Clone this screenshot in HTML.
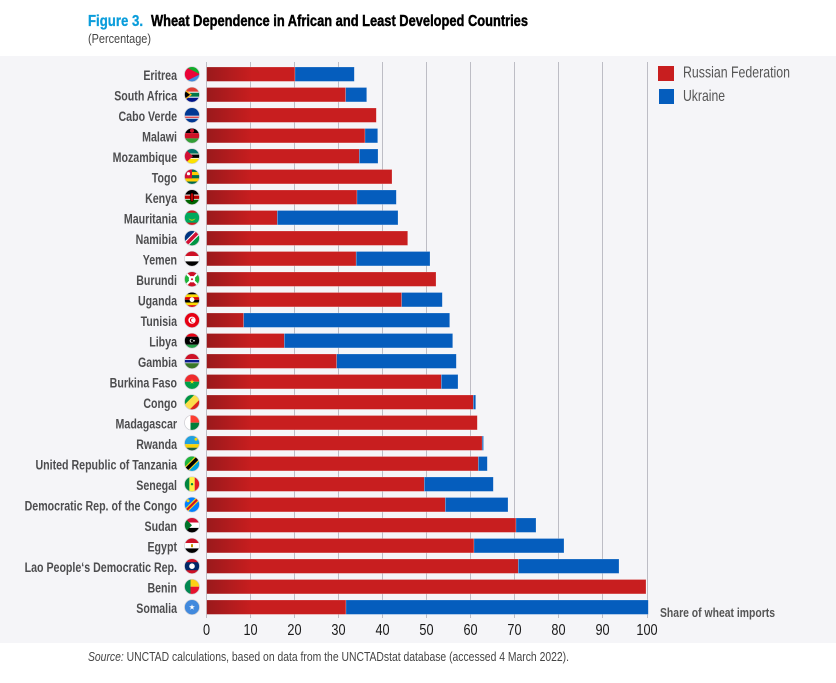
<!DOCTYPE html>
<html><head><meta charset="utf-8"><style>
html,body{margin:0;padding:0;background:#fff;}
svg{display:block;}
</style></head><body>
<svg width="836" height="683" viewBox="0 0 836 683" xmlns="http://www.w3.org/2000/svg" font-family="Liberation Sans, sans-serif">
<defs>
<linearGradient id="rg" gradientUnits="userSpaceOnUse" x1="206" y1="0" x2="252" y2="0">
<stop offset="0" stop-color="#9a191c"/><stop offset="1" stop-color="#c81e1f"/>
</linearGradient>
<clipPath id="fc"><circle cx="0" cy="0" r="7.4"/></clipPath>
</defs>
<rect x="0" y="0" width="836" height="683" fill="#fff"/>
<rect x="0" y="56" width="836" height="587" fill="#f5f5f8"/>

<!-- title -->
<text x="88" y="26" font-size="16" font-weight="bold" fill="#0a9ddb" stroke="#0a9ddb" stroke-width="0.3" textLength="55" lengthAdjust="spacingAndGlyphs">Figure 3.</text>
<text x="151" y="26" font-size="16" font-weight="bold" fill="#000" stroke="#000" stroke-width="0.45" textLength="377" lengthAdjust="spacingAndGlyphs">Wheat Dependence in African and Least Developed Countries</text>
<text x="88" y="43" font-size="13" fill="#444" textLength="63" lengthAdjust="spacingAndGlyphs">(Percentage)</text>

<!-- grid -->
<g stroke="#bdbdc5" stroke-width="1">
<line x1="206.5" y1="62" x2="206.5" y2="618"/>
<line x1="250.5" y1="62" x2="250.5" y2="618"/>
<line x1="294.5" y1="62" x2="294.5" y2="618"/>
<line x1="338.5" y1="62" x2="338.5" y2="618"/>
<line x1="382.5" y1="62" x2="382.5" y2="618"/>
<line x1="426.5" y1="62" x2="426.5" y2="618"/>
<line x1="470.5" y1="62" x2="470.5" y2="618"/>
<line x1="514.5" y1="62" x2="514.5" y2="618"/>
<line x1="558.5" y1="62" x2="558.5" y2="618"/>
<line x1="602.5" y1="62" x2="602.5" y2="618"/>
<line x1="647.5" y1="62" x2="647.5" y2="618"/>
</g>

<!-- bars -->
<g stroke="#ffffff" stroke-opacity="0.35" stroke-width="0.6">
<rect x="206.7" y="67" width="88.3" height="14.4" fill="url(#rg)"/><rect x="295" y="67" width="59.3" height="14.4" fill="#055dbd"/>
<rect x="206.7" y="87.5" width="139" height="14.4" fill="url(#rg)"/><rect x="345.7" y="87.5" width="21" height="14.4" fill="#055dbd"/>
<rect x="206.7" y="108" width="169.6" height="14.4" fill="url(#rg)"/>
<rect x="206.7" y="128.5" width="158.3" height="14.4" fill="url(#rg)"/><rect x="365" y="128.5" width="12.7" height="14.4" fill="#055dbd"/>
<rect x="206.7" y="149" width="152.6" height="14.4" fill="url(#rg)"/><rect x="359.3" y="149" width="18.7" height="14.4" fill="#055dbd"/>
<rect x="206.7" y="169.5" width="185.3" height="14.4" fill="url(#rg)"/>
<rect x="206.7" y="190" width="150.3" height="14.4" fill="url(#rg)"/><rect x="357" y="190" width="39.3" height="14.4" fill="#055dbd"/>
<rect x="206.7" y="210.5" width="70.6" height="14.4" fill="url(#rg)"/><rect x="277.3" y="210.5" width="120.7" height="14.4" fill="#055dbd"/>
<rect x="206.7" y="231" width="201" height="14.4" fill="url(#rg)"/>
<rect x="206.7" y="251.5" width="149.5" height="14.4" fill="url(#rg)"/><rect x="356.2" y="251.5" width="73.8" height="14.4" fill="#055dbd"/>
<rect x="206.7" y="272" width="229.3" height="14.4" fill="url(#rg)"/>
<rect x="206.7" y="292.5" width="195" height="14.4" fill="url(#rg)"/><rect x="401.7" y="292.5" width="40.6" height="14.4" fill="#055dbd"/>
<rect x="206.7" y="313" width="37" height="14.4" fill="url(#rg)"/><rect x="243.7" y="313" width="206" height="14.4" fill="#055dbd"/>
<rect x="206.7" y="333.5" width="77.6" height="14.4" fill="url(#rg)"/><rect x="284.3" y="333.5" width="168.4" height="14.4" fill="#055dbd"/>
<rect x="206.7" y="354" width="130" height="14.4" fill="url(#rg)"/><rect x="336.7" y="354" width="119.6" height="14.4" fill="#055dbd"/>
<rect x="206.7" y="374.5" width="234.6" height="14.4" fill="url(#rg)"/><rect x="441.3" y="374.5" width="16.7" height="14.4" fill="#055dbd"/>
<rect x="206.7" y="395" width="266.6" height="14.4" fill="url(#rg)"/><rect x="473.3" y="395" width="2.4" height="14.4" fill="#055dbd"/>
<rect x="206.7" y="415.5" width="270.6" height="14.4" fill="url(#rg)"/>
<rect x="206.7" y="436" width="275.5" height="14.4" fill="url(#rg)"/><rect x="482.2" y="436" width="1.3" height="14.4" fill="#055dbd"/>
<rect x="206.7" y="456.5" width="271.6" height="14.4" fill="url(#rg)"/><rect x="478.3" y="456.5" width="9" height="14.4" fill="#055dbd"/>
<rect x="206.7" y="477" width="217.6" height="14.4" fill="url(#rg)"/><rect x="424.3" y="477" width="69" height="14.4" fill="#055dbd"/>
<rect x="206.7" y="497.5" width="238.6" height="14.4" fill="url(#rg)"/><rect x="445.3" y="497.5" width="62.7" height="14.4" fill="#055dbd"/>
<rect x="206.7" y="518" width="309.3" height="14.4" fill="url(#rg)"/><rect x="516" y="518" width="20" height="14.4" fill="#055dbd"/>
<rect x="206.7" y="538.5" width="267.3" height="14.4" fill="url(#rg)"/><rect x="474" y="538.5" width="90" height="14.4" fill="#055dbd"/>
<rect x="206.7" y="559" width="311.6" height="14.4" fill="url(#rg)"/><rect x="518.3" y="559" width="100.7" height="14.4" fill="#055dbd"/>
<rect x="206.7" y="579.5" width="439.3" height="14.4" fill="url(#rg)"/>
<rect x="206.7" y="600" width="139.3" height="14.4" fill="url(#rg)"/><rect x="346" y="600" width="302.3" height="14.4" fill="#055dbd"/>
</g>

<!-- country labels -->
<g transform="scale(0.76,1)" font-size="14" font-weight="bold" fill="#4d4d4f" text-anchor="end">
<text x="232.9" y="80">Eritrea</text>
<text x="232.9" y="100.5">South Africa</text>
<text x="232.9" y="121">Cabo Verde</text>
<text x="232.9" y="141.5">Malawi</text>
<text x="232.9" y="162">Mozambique</text>
<text x="232.9" y="182.5">Togo</text>
<text x="232.9" y="203">Kenya</text>
<text x="232.9" y="223.5">Mauritania</text>
<text x="232.9" y="244">Namibia</text>
<text x="232.9" y="264.5">Yemen</text>
<text x="232.9" y="285">Burundi</text>
<text x="232.9" y="305.5">Uganda</text>
<text x="232.9" y="326">Tunisia</text>
<text x="232.9" y="346.5">Libya</text>
<text x="232.9" y="367">Gambia</text>
<text x="232.9" y="387.5">Burkina Faso</text>
<text x="232.9" y="408">Congo</text>
<text x="232.9" y="428.5">Madagascar</text>
<text x="232.9" y="449">Rwanda</text>
<text x="232.9" y="469.5">United Republic of Tanzania</text>
<text x="232.9" y="490">Senegal</text>
<text x="232.9" y="510.5">Democratic Rep. of the Congo</text>
<text x="232.9" y="531">Sudan</text>
<text x="232.9" y="551.5">Egypt</text>
<text x="232.9" y="572">Lao People‘s Democratic Rep.</text>
<text x="232.9" y="592.5">Benin</text>
<text x="232.9" y="613">Somalia</text>
</g>

<!-- flags -->
<g>
<g transform="translate(192,74.2)"><g clip-path="url(#fc)"><rect x="-8" y="-8" width="16" height="8" fill="#12ad2b"/><rect x="-8" y="0" width="16" height="8" fill="#4189dd"/><polygon points="-8,-8 8,0 -8,8" fill="#ea0437"/></g></g>
<g transform="translate(192,94.7)"><g clip-path="url(#fc)"><rect x="-8" y="-8" width="16" height="8" fill="#e03c31"/><rect x="-8" y="0" width="16" height="8" fill="#001489"/><rect x="-8" y="-3" width="16" height="6" fill="#fff"/><rect x="-8" y="-2" width="16" height="4" fill="#007749"/><polygon points="-8,-6 0,0 -8,6" fill="#ffb81c"/><polygon points="-8,-4.5 -2,0 -8,4.5" fill="#000"/></g></g>
<g transform="translate(192,115.2)"><g clip-path="url(#fc)"><rect x="-8" y="-8" width="16" height="16" fill="#003893"/><rect x="-8" y="0.5" width="16" height="3" fill="#fff"/><rect x="-8" y="1.4" width="16" height="1.2" fill="#cf2027"/></g></g>
<g transform="translate(192,135.7)"><g clip-path="url(#fc)"><rect x="-8" y="-8" width="16" height="5.4" fill="#000"/><rect x="-8" y="-2.6" width="16" height="5.3" fill="#ce1126"/><rect x="-8" y="2.7" width="16" height="5.3" fill="#339e35"/><circle cx="0" cy="-5" r="2" fill="#ce1126"/></g></g>
<g transform="translate(192,156.2)"><g clip-path="url(#fc)"><rect x="-8" y="-8" width="16" height="16" fill="#fce100"/><rect x="-8" y="-8" width="16" height="5.5" fill="#007168"/><rect x="-8" y="-2.5" width="16" height="5" fill="#fff"/><rect x="-8" y="-1.7" width="16" height="3.4" fill="#000"/><polygon points="-8,-8 1,0 -8,8" fill="#d21034"/></g></g>
<g transform="translate(192,176.7)"><g clip-path="url(#fc)"><rect x="-8" y="-8" width="16" height="16" fill="#006a4e"/><rect x="-8" y="-4.8" width="16" height="3.2" fill="#ffce00"/><rect x="-8" y="1.6" width="16" height="3.2" fill="#ffce00"/><rect x="-8" y="-8" width="8" height="9.6" fill="#d21034"/><circle cx="-3.5" cy="-3" r="1.6" fill="#fff"/></g></g>
<g transform="translate(192,197.2)"><g clip-path="url(#fc)"><rect x="-8" y="-8" width="16" height="5.5" fill="#000"/><rect x="-8" y="-2.5" width="16" height="5" fill="#fff"/><rect x="-8" y="-1.7" width="16" height="3.4" fill="#bb0000"/><rect x="-8" y="2.5" width="16" height="5.5" fill="#006600"/><ellipse cx="0" cy="0" rx="1.8" ry="4.5" fill="#bb0000" stroke="#000" stroke-width="0.6"/></g></g>
<g transform="translate(192,217.7)"><g clip-path="url(#fc)"><rect x="-8" y="-8" width="16" height="16" fill="#00a95c"/><rect x="-8" y="-8" width="16" height="3" fill="#d01c1f"/><rect x="-8" y="5" width="16" height="3" fill="#d01c1f"/><path d="M-3.5,-0.5 A3.5,3.5 0 0 0 3.5,-0.5 A3.5,2.5 0 0 1 -3.5,-0.5Z" fill="#ffd700"/></g></g>
<g transform="translate(192,238.2)"><g clip-path="url(#fc)"><polygon points="-8,-8 8,-8 -8,8" fill="#003580"/><polygon points="8,-8 8,8 -8,8" fill="#009543"/><polygon points="4,-8 8,-8 8,-4 -4,8 -8,8 -8,4" fill="#fff"/><polygon points="5.5,-8 8,-8 8,-5.5 -5.5,8 -8,8 -8,5.5" fill="#d21034"/></g></g>
<g transform="translate(192,258.7)"><g clip-path="url(#fc)"><rect x="-8" y="-8" width="16" height="5.4" fill="#ce1126"/><rect x="-8" y="-2.6" width="16" height="5.3" fill="#fff"/><rect x="-8" y="2.7" width="16" height="5.3" fill="#000"/></g></g>
<g transform="translate(192,279.2)"><g clip-path="url(#fc)"><rect x="-8" y="-8" width="16" height="16" fill="#1eb53a"/><polygon points="-8,-8 8,-8 0,0" fill="#ce1126"/><polygon points="-8,8 8,8 0,0" fill="#ce1126"/><line x1="-8" y1="-8" x2="8" y2="8" stroke="#fff" stroke-width="2"/><line x1="8" y1="-8" x2="-8" y2="8" stroke="#fff" stroke-width="2"/><circle cx="0" cy="0" r="3.2" fill="#fff"/><circle cx="0" cy="0" r="1" fill="#ce1126"/></g></g>
<g transform="translate(192,299.7)"><g clip-path="url(#fc)"><rect x="-8" y="-8" width="16" height="2.7" fill="#000"/><rect x="-8" y="-5.3" width="16" height="2.7" fill="#fcdc04"/><rect x="-8" y="-2.6" width="16" height="2.7" fill="#d90000"/><rect x="-8" y="0.1" width="16" height="2.7" fill="#000"/><rect x="-8" y="2.8" width="16" height="2.7" fill="#fcdc04"/><rect x="-8" y="5.5" width="16" height="2.7" fill="#d90000"/><circle cx="0" cy="0" r="2.4" fill="#fff"/></g></g>
<g transform="translate(192,320.2)"><g clip-path="url(#fc)"><rect x="-8" y="-8" width="16" height="16" fill="#e70013"/><circle cx="0" cy="0" r="3.6" fill="#fff"/><circle cx="0.3" cy="0" r="2.4" fill="#e70013"/><circle cx="1" cy="0" r="1.9" fill="#fff"/></g></g>
<g transform="translate(192,340.7)"><g clip-path="url(#fc)"><rect x="-8" y="-8" width="16" height="4" fill="#e70013"/><rect x="-8" y="-4" width="16" height="8" fill="#000"/><rect x="-8" y="4" width="16" height="4" fill="#239e46"/><circle cx="-0.5" cy="0" r="1.8" fill="#fff"/><circle cx="0" cy="0" r="1.4" fill="#000"/><circle cx="2" cy="0" r="0.8" fill="#fff"/></g></g>
<g transform="translate(192,361.2)"><g clip-path="url(#fc)"><rect x="-8" y="-8" width="16" height="6" fill="#ce1126"/><rect x="-8" y="-2" width="16" height="4" fill="#fff"/><rect x="-8" y="-1.3" width="16" height="2.6" fill="#0c1c8c"/><rect x="-8" y="2" width="16" height="6" fill="#3a7728"/></g></g>
<g transform="translate(192,381.7)"><g clip-path="url(#fc)"><rect x="-8" y="-8" width="16" height="8" fill="#ef2b2d"/><rect x="-8" y="0" width="16" height="8" fill="#009e49"/><polygon points="0,-2.4 0.6,-0.7 2.3,-0.7 0.9,0.3 1.5,2 0,1 -1.5,2 -0.9,0.3 -2.3,-0.7 -0.6,-0.7" fill="#fcd116"/></g></g>
<g transform="translate(192,402.2)"><g clip-path="url(#fc)"><polygon points="-8,-8 8,-8 -8,8" fill="#009543"/><polygon points="8,-8 8,8 -8,8" fill="#dc241f"/><polygon points="3,-8 8,-8 8,-3 -3,8 -8,8 -8,3" fill="#fbde4a"/></g></g>
<g transform="translate(192,422.7)"><g clip-path="url(#fc)"><rect x="-8" y="-8" width="16" height="8" fill="#fc3d32"/><rect x="-8" y="0" width="16" height="8" fill="#007e3a"/><rect x="-8" y="-8" width="6.5" height="16" fill="#fff"/></g></g>
<g transform="translate(192,443.2)"><g clip-path="url(#fc)"><rect x="-8" y="-8" width="16" height="9" fill="#20a0de"/><rect x="-8" y="1" width="16" height="3.5" fill="#fad201"/><rect x="-8" y="4.5" width="16" height="3.5" fill="#20603d"/><circle cx="4" cy="-4" r="1.5" fill="#fad201"/></g></g>
<g transform="translate(192,463.7)"><g clip-path="url(#fc)"><polygon points="-8,-8 8,-8 -8,8" fill="#1eb53a"/><polygon points="8,-8 8,8 -8,8" fill="#00a3dd"/><polygon points="4,-8 8,-8 8,-4 -4,8 -8,8 -8,4" fill="#fcd116"/><polygon points="5.5,-8 8,-8 8,-5.5 -5.5,8 -8,8 -8,5.5" fill="#000"/></g></g>
<g transform="translate(192,484.2)"><g clip-path="url(#fc)"><rect x="-8" y="-8" width="5.4" height="16" fill="#00853f"/><rect x="-2.6" y="-8" width="5.3" height="16" fill="#fdef42"/><rect x="2.7" y="-8" width="5.3" height="16" fill="#e31b23"/><circle cx="0" cy="0" r="1.2" fill="#00853f"/></g></g>
<g transform="translate(192,504.7)"><g clip-path="url(#fc)"><rect x="-8" y="-8" width="16" height="16" fill="#007fff"/><polygon points="5,-8 8,-8 8,-5 -5,8 -8,8 -8,5" fill="#f7d618"/><polygon points="6.5,-8 8,-8 8,-6.5 -6.5,8 -8,8 -8,6.5" fill="#ce1021"/><circle cx="-4" cy="-4" r="1.5" fill="#f7d618"/></g></g>
<g transform="translate(192,525.2)"><g clip-path="url(#fc)"><rect x="-8" y="-8" width="16" height="5.4" fill="#d21034"/><rect x="-8" y="-2.6" width="16" height="5.3" fill="#fff"/><rect x="-8" y="2.7" width="16" height="5.3" fill="#000"/><polygon points="-8,-8 0,0 -8,8" fill="#007229"/></g></g>
<g transform="translate(192,545.7)"><g clip-path="url(#fc)"><rect x="-8" y="-8" width="16" height="5.4" fill="#ce1126"/><rect x="-8" y="-2.6" width="16" height="5.3" fill="#fff"/><rect x="-8" y="2.7" width="16" height="5.3" fill="#000"/><rect x="-1" y="-1.5" width="2" height="3" fill="#c09300"/></g></g>
<g transform="translate(192,566.2)"><g clip-path="url(#fc)"><rect x="-8" y="-8" width="16" height="16" fill="#ce1126"/><rect x="-8" y="-4" width="16" height="8" fill="#002868"/><circle cx="0" cy="0" r="2.8" fill="#fff"/></g></g>
<g transform="translate(192,586.7)"><g clip-path="url(#fc)"><rect x="-8" y="-8" width="16" height="8" fill="#fcd116"/><rect x="-8" y="0" width="16" height="8" fill="#e8112d"/><rect x="-8" y="-8" width="6.5" height="16" fill="#008751"/></g></g>
<g transform="translate(192,607.2)"><g clip-path="url(#fc)"><rect x="-8" y="-8" width="16" height="16" fill="#4189dd"/><polygon points="0,-3 0.7,-0.9 2.9,-0.9 1.1,0.4 1.8,2.5 0,1.2 -1.8,2.5 -1.1,0.4 -2.9,-0.9 -0.7,-0.9" fill="#fff"/></g></g>
</g>
<g fill="none" stroke="#cfcfd4" stroke-width="0.7">
<circle cx="192" cy="74.2" r="7.5"/><circle cx="192" cy="94.7" r="7.5"/><circle cx="192" cy="115.2" r="7.5"/><circle cx="192" cy="135.7" r="7.5"/><circle cx="192" cy="156.2" r="7.5"/><circle cx="192" cy="176.7" r="7.5"/><circle cx="192" cy="197.2" r="7.5"/><circle cx="192" cy="217.7" r="7.5"/><circle cx="192" cy="238.2" r="7.5"/><circle cx="192" cy="258.7" r="7.5"/><circle cx="192" cy="279.2" r="7.5"/><circle cx="192" cy="299.7" r="7.5"/><circle cx="192" cy="320.2" r="7.5"/><circle cx="192" cy="340.7" r="7.5"/><circle cx="192" cy="361.2" r="7.5"/><circle cx="192" cy="381.7" r="7.5"/><circle cx="192" cy="402.2" r="7.5"/><circle cx="192" cy="422.7" r="7.5"/><circle cx="192" cy="443.2" r="7.5"/><circle cx="192" cy="463.7" r="7.5"/><circle cx="192" cy="484.2" r="7.5"/><circle cx="192" cy="504.7" r="7.5"/><circle cx="192" cy="525.2" r="7.5"/><circle cx="192" cy="545.7" r="7.5"/><circle cx="192" cy="566.2" r="7.5"/><circle cx="192" cy="586.7" r="7.5"/><circle cx="192" cy="607.2" r="7.5"/>
</g>

<!-- x tick labels -->
<g transform="scale(0.82,1)" font-size="15.5" fill="#1a1a1a" text-anchor="middle">
<text x="251.8" y="635">0</text>
<text x="305.5" y="635">10</text>
<text x="359.1" y="635">20</text>
<text x="412.8" y="635">30</text>
<text x="466.5" y="635">40</text>
<text x="520.1" y="635">50</text>
<text x="573.8" y="635">60</text>
<text x="627.4" y="635">70</text>
<text x="681.1" y="635">80</text>
<text x="734.8" y="635">90</text>
<text x="789" y="635">100</text>
</g>
<text x="660" y="617" font-size="13" font-weight="bold" fill="#555" textLength="115" lengthAdjust="spacingAndGlyphs">Share of wheat imports</text>

<!-- legend -->
<rect x="658" y="66" width="16" height="15" fill="#c81e1f"/>
<rect x="659" y="89" width="15" height="15" fill="#055dbd"/>
<text x="683" y="77.5" font-size="16" fill="#555" textLength="107" lengthAdjust="spacingAndGlyphs">Russian Federation</text>
<text x="683" y="101" font-size="16" fill="#555" textLength="42" lengthAdjust="spacingAndGlyphs">Ukraine</text>

<!-- source -->
<text x="88" y="661" font-size="13" fill="#444" textLength="481" lengthAdjust="spacingAndGlyphs"><tspan font-style="italic">Source:</tspan> UNCTAD calculations, based on data from the UNCTADstat database (accessed 4 March 2022).</text>
</svg>
</body></html>
